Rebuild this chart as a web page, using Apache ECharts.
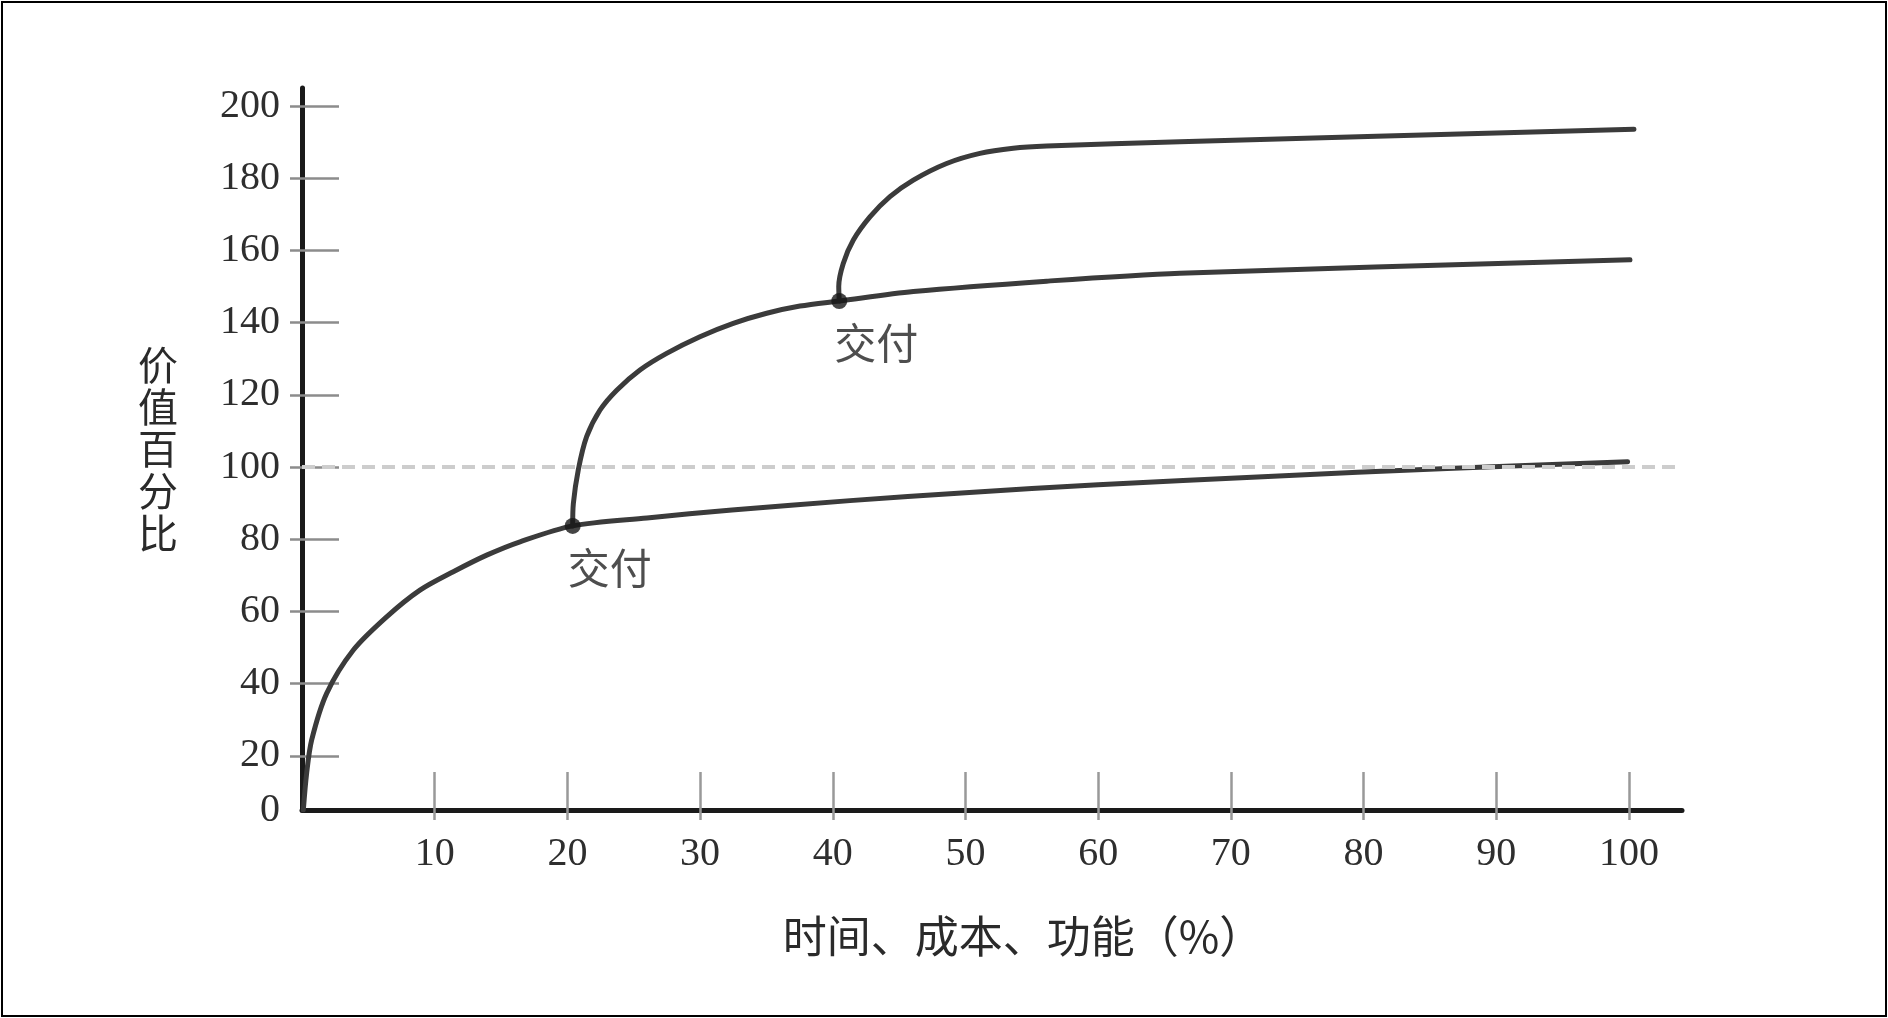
<!DOCTYPE html>
<html>
<head>
<meta charset="utf-8">
<script src="https://cdn.jsdelivr.net/npm/echarts@6/dist/echarts.min.js"></script>
<style>
  html, body { margin: 0; padding: 0; background: #fff; }
  #frame { position: absolute; left: 1px; top: 1px; width: 1882px; height: 1012px; border: 2px solid #000; background: #fff; }
  #chart { position: absolute; left: 0; top: 0; width: 1888px; height: 1018px; }
</style>
</head>
<body>
<div id="frame"></div>
<div id="chart"></div>
<script>
// ---- data ----
const xTickValues = [10, 20, 30, 40, 50, 60, 70, 80, 90, 100];
const yTickValues = [20, 40, 60, 80, 100, 120, 140, 160, 180, 200];
const yOriginValue = 5;      // value where the x axis crosses the y axis
const yOriginLabel = '0';    // label printed at the axis origin
const referenceLevel = 100;  // dashed 100% line

const baseCurve = [
  [0.1, 5], [0.35, 15.2], [0.73, 24.4], [1.86, 37.3], [3.87, 49.3], [6.38, 58.5],
  [8.89, 65.9], [11.4, 71], [13.92, 75.6], [16.43, 79.3], [20.4, 83.7], [26, 85.9],
  [32.4, 88.1], [41.3, 90.7], [50, 92.9], [60, 95.1], [72.8, 97.4], [86.3, 99.6], [99.9, 101.5]
];
const secondCurve = [
  [20.4, 83.7], [20.45, 89.9], [20.82, 99.2], [21.45, 108.4], [22.46, 115.8], [23.72, 121.3],
  [25.47, 126.9], [27.48, 131.5], [29.99, 136.1], [32.5, 139.8], [35.02, 142.6], [37.53, 144.6],
  [40.49, 146], [46.07, 148.6], [56.12, 151.5], [66.16, 153.7], [100.08, 157.4]
];
const thirdCurve = [
  [40.49, 146], [40.45, 150], [40.79, 156.4], [41.55, 162.9], [42.8, 169.3], [44.31, 174.9],
  [46.07, 179.5], [48.58, 184.1], [51.09, 186.9], [53.6, 188.3], [56.12, 188.9], [66.16, 190.1],
  [100.38, 193.6]
];
const deliveryPoints = [[20.4, 83.7], [40.49, 146]];
const deliveryLabels = ['交付', '交付'];

const xAxisName = '时间、成本、功能（%）';
const yAxisName = '价\n值\n百\n分\n比';

// ---- chart ----
const serif = '"Liberation Serif", "DejaVu Serif", serif';
const cjk = '"Noto Sans CJK SC", "Noto Sans", sans-serif';
const lineColor = '#3b3b3b';

const chart = echarts.init(document.getElementById('chart'), null, { renderer: 'canvas' });

const curveSeries = (data) => ({
  type: 'line',
  data: data,
  xAxisIndex: 0, yAxisIndex: 0,
  showSymbol: false,
  symbol: 'none',
  smooth: 0.3,
  lineStyle: { color: lineColor, width: 5, cap: 'round', join: 'round' },
  z: 3,
  silent: true
});

chart.setOption({
  animation: false,
  backgroundColor: 'transparent',
  grid: { left: 302, top: 88, width: 1380, height: 722, containLabel: false },
  xAxis: [
    {
      type: 'value', min: 0, max: 104,
      axisLine: { show: true, onZero: false, lineStyle: { color: '#1a1a1a', width: 5 } },
      axisTick: { show: true, inside: true, length: 38, customValues: xTickValues,
                  lineStyle: { color: '#999', width: 2.5 } },
      axisLabel: { show: true, customValues: xTickValues, margin: 24,
                   fontFamily: serif, fontSize: 40, color: '#2e2e2e' },
      splitLine: { show: false },
      name: xAxisName, nameLocation: 'middle', nameGap: 104,
      nameTextStyle: { fontFamily: cjk, fontSize: 44, color: '#2a2a2a', padding: [0, 0, 0, 62] }
    },
    {
      type: 'value', min: 0, max: 104, position: 'bottom',
      axisLine: { show: false, onZero: false },
      axisTick: { show: true, inside: false, length: 10, customValues: xTickValues,
                  lineStyle: { color: '#999', width: 2.5 } },
      axisLabel: { show: false },
      splitLine: { show: false }
    }
  ],
  yAxis: [
    {
      type: 'value', min: yOriginValue, max: 205,
      axisLine: { show: true, onZero: false, lineStyle: { color: '#1a1a1a', width: 5 } },
      axisTick: { show: true, inside: true, length: 37, customValues: yTickValues,
                  lineStyle: { color: '#8c8c8c', width: 2.5 } },
      axisLabel: { show: true, customValues: [yOriginValue].concat(yTickValues), margin: 22,
                   fontFamily: serif, fontSize: 40, color: '#2e2e2e',
                   formatter: (v) => (v === yOriginValue ? yOriginLabel : String(v)) },
      splitLine: { show: false },
      name: yAxisName, nameLocation: 'middle', nameGap: 124, nameRotate: 0,
      nameTextStyle: { fontFamily: cjk, fontSize: 40, lineHeight: 42, color: '#2a2a2a',
                       padding: [0, 0, 34, 0] }
    },
    {
      type: 'value', min: yOriginValue, max: 205, position: 'left',
      axisLine: { show: false, onZero: false },
      axisTick: { show: true, inside: false, length: 12, customValues: yTickValues,
                  lineStyle: { color: '#8c8c8c', width: 2.5 } },
      axisLabel: { show: false },
      splitLine: { show: false }
    }
  ],
  series: [
    {
      type: 'line', data: [], xAxisIndex: 0, yAxisIndex: 0, z: 1, silent: true,
      markLine: {
        silent: true, symbol: 'none', label: { show: false },
        lineStyle: { color: '#cdcdcd', width: 4, type: [13, 7] },
        data: [{ yAxis: referenceLevel }]
      }
    },
    curveSeries(baseCurve),
    curveSeries(secondCurve),
    curveSeries(thirdCurve),
    {
      type: 'scatter', data: deliveryPoints, xAxisIndex: 0, yAxisIndex: 0,
      symbol: 'circle', symbolSize: 16, z: 5, silent: true,
      itemStyle: { color: '#161616' },
      label: {
        show: true, position: 'bottom', distance: 13, offset: [37, 0],
        formatter: (p) => deliveryLabels[p.dataIndex],
        fontFamily: cjk, fontSize: 42, color: '#222'
      }
    }
  ]
});
</script>
</body>
</html>
